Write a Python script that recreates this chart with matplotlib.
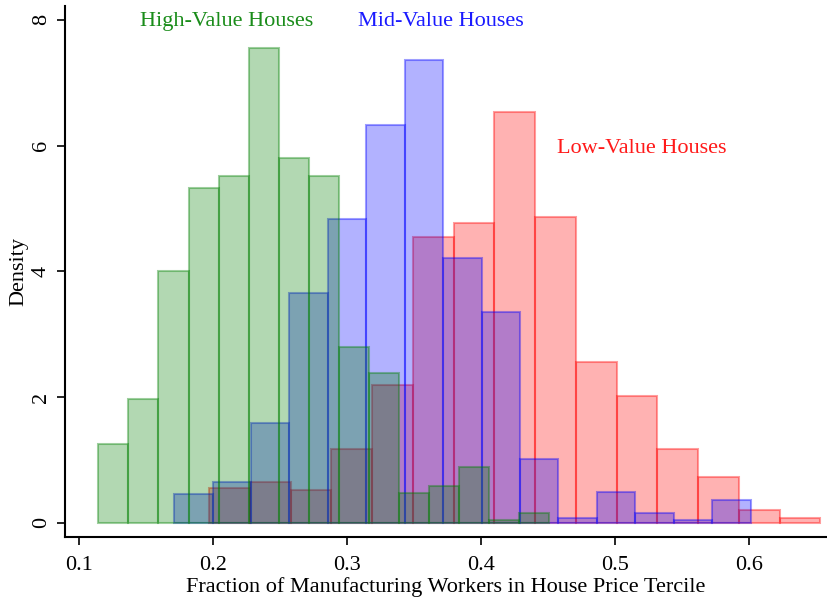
import numpy as np
import matplotlib
matplotlib.use("Agg")
import matplotlib.pyplot as plt

# histogram bins (density per bin, 15 bins each)
high_start, high_width = 0.1142, 0.02244
high_dens = [1.25, 1.97, 4.01, 5.33, 5.52, 7.56, 5.81, 5.51, 2.80, 2.38,
             0.47, 0.58, 0.88, 0.04, 0.16]

mid_start, mid_width = 0.1708, 0.02868
mid_dens = [0.45, 0.64, 1.58, 3.65, 4.83, 6.33, 7.36, 4.21, 3.36, 1.02,
            0.07, 0.49, 0.16, 0.04, 0.36]

low_start, low_width = 0.1969, 0.03042
low_dens = [0.56, 0.65, 0.52, 1.17, 2.19, 4.55, 4.77, 6.54, 4.86, 2.55,
            2.01, 1.18, 0.73, 0.20, 0.07]

x_ticks = [0.1, 0.2, 0.3, 0.4, 0.5, 0.6]
y_ticks = [0, 2, 4, 6, 8]

plt.rcParams['font.family'] = ['Liberation Serif', 'DejaVu Serif']

fig = plt.figure(figsize=(8.28, 5.98), dpi=100)
ax = fig.add_axes([0.0785, 0.102, 0.92, 0.888])


def draw_hist(start, width, dens, rgb):
    lefts = start + width * np.arange(len(dens))
    ax.bar(lefts, dens, width=width, align='edge',
           color=rgb + (0.3,), edgecolor=rgb + (0.38,), linewidth=1.5)


# red underneath, green on top
draw_hist(low_start, low_width, low_dens, (1.0, 0.0, 0.0))
draw_hist(mid_start, mid_width, mid_dens, (0.0, 0.0, 1.0))
draw_hist(high_start, high_width, high_dens, (0.0, 0.5, 0.0))

fs = 16
ax.text(0.210, 7.97, "High-Value Houses", color='#1a8c1a', fontsize=fs,
        ha='center', va='center')
ax.text(0.3696, 7.97, "Mid-Value Houses", color='#1a1aff', fontsize=fs,
        ha='center', va='center')
ax.text(0.520, 5.95, "Low-Value Houses", color='#ff1a1a', fontsize=fs,
        ha='center', va='center')

ax.set_xlim(0.0893, 0.6579)
ax.set_ylim(-0.2275, 8.221)
ax.set_xticks(x_ticks)
ax.set_xticklabels([str(t) for t in x_ticks])
ax.set_yticks(y_ticks)
ax.set_yticklabels([str(t) for t in y_ticks], rotation=90, va='center')
ax.tick_params(axis='both', labelsize=fs, length=6, width=1.2, direction='out')
ax.tick_params(axis='x', pad=8)
ax.tick_params(axis='y', pad=4)

for sp in ['top', 'right']:
    ax.spines[sp].set_visible(False)
for sp in ['left', 'bottom']:
    ax.spines[sp].set_linewidth(1.5)

ax.set_xlabel("Fraction of Manufacturing Workers in House Price Tercile",
              fontsize=fs, labelpad=1.5)
ax.set_ylabel("Density", fontsize=fs, labelpad=3)

fig.savefig("out.png", dpi=100)
